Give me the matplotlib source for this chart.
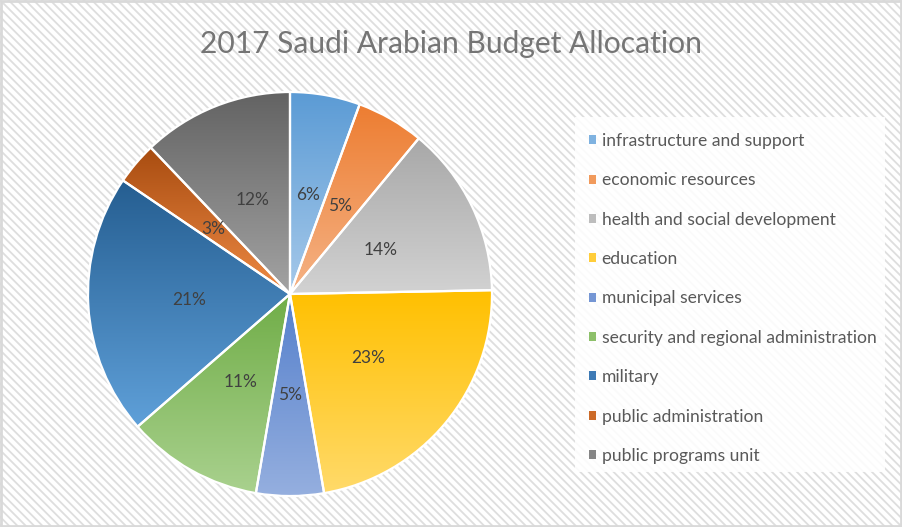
import numpy as np
import matplotlib
matplotlib.use("Agg")
import matplotlib.pyplot as plt
from matplotlib.patches import Patch, Rectangle
from matplotlib.colors import to_rgb

plt.rcParams['font.family'] = ['Lato', 'DejaVu Sans']
plt.rcParams['hatch.color'] = '#dedede'
plt.rcParams['hatch.linewidth'] = 1.3

# data
categories = ["infrastructure and support", "economic resources",
              "health and social development", "education",
              "municipal services", "security and regional administration",
              "military", "public administration", "public programs unit"]
shares = [5.6, 5.4, 13.7, 22.6, 5.4, 10.9, 20.9, 3.4, 12.1]

# gradient colours (top, bottom) for each slice
top_colors = ["#5b9bd5", "#ed7d31", "#a8a8a8", "#ffc000", "#5580cc",
              "#70ad47", "#255e91", "#a84c10", "#636363"]
bottom_colors = ["#a6c9ea", "#f5b386", "#d2d2d2", "#ffda6a", "#95afdf",
                 "#a9d18e", "#5fa0d9", "#ee8a45", "#a3a3a3"]
legend_colors = ["#7fb2e0", "#f19a5c", "#bdbdbd", "#ffcd3a", "#7596d4",
                 "#8dc06a", "#3d7ab5", "#cc6a28", "#858585"]

fig = plt.figure(figsize=(9.02, 5.27), dpi=100)
fig.patch.set_facecolor('white')

# striped background + border
bg = Rectangle((0, 0), 1, 1, transform=fig.transFigure, facecolor='white',
               edgecolor='#dedede', hatch='\\\\\\\\', linewidth=0, zorder=-10)
fig.patches.append(bg)
border = Rectangle((0.001, 0.002), 0.998, 0.996, transform=fig.transFigure,
                   facecolor='none', edgecolor='#d9d9d9', linewidth=2.0, zorder=-5)
fig.patches.append(border)

W, H = 902, 527
cx, cy, r = 290, 294, 202
ax = fig.add_axes([(cx - r) / W, (H - cy - r) / H, 2 * r / W, 2 * r / H])
ax.set_facecolor('none')

wedges, texts, autotexts = ax.pie(
    shares, startangle=90, counterclock=False,
    autopct='%.0f%%', pctdistance=0.5,
    wedgeprops=dict(facecolor='none', edgecolor='white', linewidth=1.6, zorder=3),
    textprops=dict(fontsize=12.5, color='#404040'))

for at in autotexts:
    at.set_zorder(5)

n = 256
for w, c_top, c_bot in zip(wedges, top_colors, bottom_colors):
    ext = w.get_path().get_extents()
    t = np.linspace(0, 1, n)[:, None]
    grad = (1 - t) * np.array(to_rgb(c_top)) + t * np.array(to_rgb(c_bot))
    grad = grad[:, None, :]
    im = ax.imshow(grad, extent=(ext.x0, ext.x1, ext.y0, ext.y1),
                   origin='upper', aspect='auto', zorder=2, interpolation='bilinear')
    im.set_clip_path(w)

ax.set_xlim(-1.0, 1.0)
ax.set_ylim(-1.0, 1.0)
ax.set_aspect('equal')
ax.axis('off')

fig.text(0.5, 1 - 44 / H, "2017 Saudi Arabian Budget Allocation",
         ha='center', va='center', fontsize=21.6, color='#757575')

# legend panel
panel = Rectangle((575 / W, 1 - 472 / H), 310 / W, 355 / H, transform=fig.transFigure,
                  facecolor='white', edgecolor='none', alpha=0.88, zorder=0)
fig.patches.append(panel)

handles = [Patch(facecolor=c, edgecolor='none') for c in legend_colors]
leg = fig.legend(handles, categories, loc='upper left',
                 bbox_to_anchor=(589 / W, 1 - 133 / H),
                 frameon=False, fontsize=12.6, labelcolor='#595959',
                 handlelength=0.42, handleheight=0.42, handletextpad=0.3,
                 labelspacing=1.335, borderpad=0, borderaxespad=0)

fig.savefig("out.png", dpi=100)
